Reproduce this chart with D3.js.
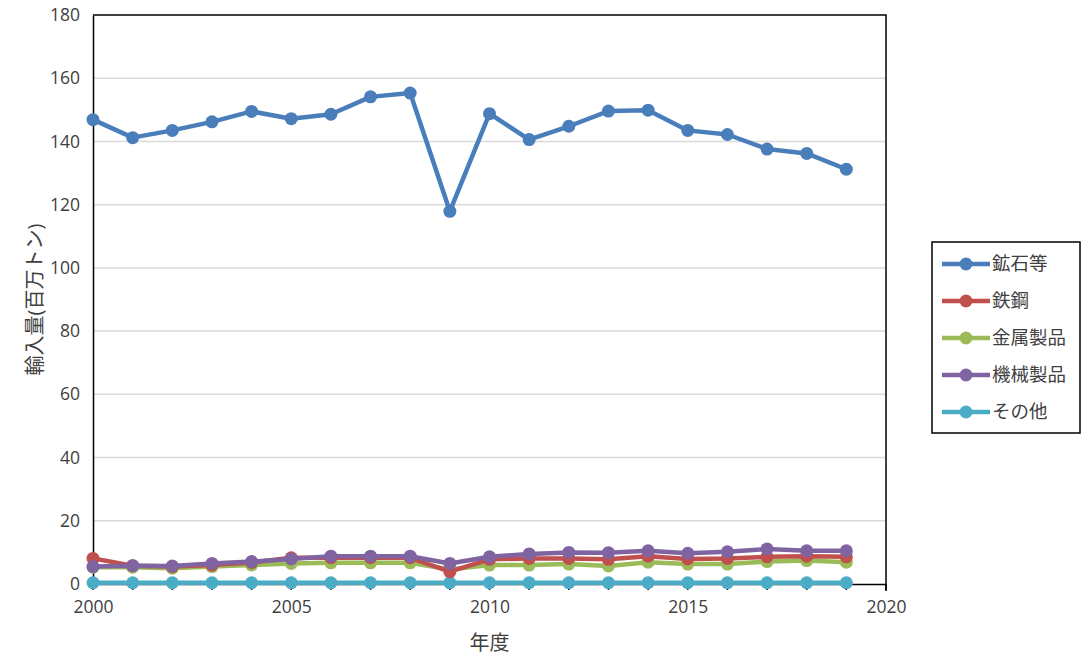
<!DOCTYPE html>
<html><head><meta charset="utf-8">
<script src="https://cdn.jsdelivr.net/npm/d3@7"></script>
<style>
html,body{margin:0;padding:0;background:#fff;}
text{font-family:"Open Sans","Noto Sans CJK JP",sans-serif;}
</style></head>
<body><svg id="c" width="1083" height="660"></svg>
<script>
const years = d3.range(2000, 2020);
const seriesNames = ["鉱石等","鉄鋼","金属製品","機械製品","その他"];
const seriesColors = ["#4A7EBB","#C0504D","#9BBB59","#8064A2","#4BACC6"];
const oreValues   = [146.9,141.2,143.5,146.2,149.5,147.2,148.6,154.1,155.3,117.9,148.8,140.6,144.8,149.6,149.9,143.5,142.2,137.6,136.2,131.2];
const steelValues = [8.1,5.8,5.5,6.0,6.8,8.3,8.3,8.3,8.3,3.9,7.8,8.1,8.1,7.8,8.8,7.9,8.1,8.6,8.8,8.6];
const metalValues = [5.3,5.3,5.0,5.5,6.0,6.5,6.7,6.7,6.7,4.6,6.0,6.0,6.3,5.7,6.9,6.3,6.3,7.1,7.4,6.9];
const machValues  = [5.5,5.8,5.7,6.5,7.1,7.9,8.8,8.8,8.8,6.5,8.6,9.5,10.0,9.9,10.5,9.7,10.2,11.1,10.5,10.5];
const otherValues = [0.4,0.4,0.4,0.4,0.4,0.4,0.4,0.4,0.4,0.4,0.4,0.4,0.4,0.4,0.4,0.4,0.4,0.4,0.4,0.4];
const allValues = [oreValues, steelValues, metalValues, machValues, otherValues];
const yTicks = [0,20,40,60,80,100,120,140,160,180];
const xTicks = [2000,2005,2010,2015,2020];
const xTitle = "年度";
const yTitle = "輸入量(百万トン)";

const svg = d3.select("#c");
const L = 93, R = 886, T = 15, B = 584;
const x = d3.scaleLinear().domain([2000, 2020]).range([L, R]);
const y = d3.scaleLinear().domain([0, 180]).range([B, T]);
const textColor = "#404040";

// gridlines
svg.append("g").selectAll("line").data(yTicks.filter(d => d > 0 && d < 180)).join("line")
  .attr("x1", L).attr("x2", R).attr("y1", d => y(d)).attr("y2", d => y(d))
  .attr("stroke", "#d9d9d9").attr("stroke-width", 1.5);

// frame: top and right
svg.append("path").attr("d", `M${L},${T}H${R}V${B + 7}`).attr("fill", "none").attr("stroke", "#000").attr("stroke-width", 1.5);

// y axis
const yAxis = svg.append("g").attr("transform", `translate(${L},0)`)
  .call(d3.axisLeft(y).tickValues(yTicks).tickSize(0).tickPadding(13));
yAxis.select(".domain").attr("stroke", "#000").attr("stroke-width", 1.5);
yAxis.selectAll("text").attr("font-size", 17.5).attr("fill", textColor);

// x axis
const xAxis = svg.append("g").attr("transform", `translate(0,${B})`)
  .call(d3.axisBottom(x).tickValues(xTicks).tickSize(0).tickPadding(17).tickFormat(d3.format("d")));
xAxis.select(".domain").attr("stroke", "#000").attr("stroke-width", 1.5);
xAxis.selectAll("text").attr("font-size", 17.5).attr("fill", textColor);
// minor ticks every year
svg.append("g").selectAll("line").data(d3.range(2000, 2021)).join("line")
  .attr("x1", d => x(d)).attr("x2", d => x(d)).attr("y1", B).attr("y2", B + 6)
  .attr("stroke", "#000").attr("stroke-width", 1.5);

// titles
svg.append("text").attr("x", (L + R) / 2).attr("y", 650).attr("text-anchor", "middle")
  .attr("font-size", 20).attr("fill", textColor).text(xTitle);
svg.append("text").attr("transform", `translate(42,${(T + B) / 2}) rotate(-90)`)
  .attr("text-anchor", "middle").attr("font-size", 20).attr("fill", textColor).text(yTitle);

// series
const line = d3.line().x((d, i) => x(years[i])).y(d => y(d));
const order = [4, 2, 1, 3, 0];
order.forEach(k => {
  const g = svg.append("g");
  g.append("path").datum(allValues[k]).attr("d", line)
    .attr("fill", "none").attr("stroke", seriesColors[k]).attr("stroke-width", 4.5)
    .attr("stroke-linejoin", "round");
  g.selectAll("circle").data(allValues[k]).join("circle")
    .attr("cx", (d, i) => x(years[i])).attr("cy", d => y(d)).attr("r", 6.5)
    .attr("fill", seriesColors[k]);
});

// legend
const lg = svg.append("g");
lg.append("rect").attr("x", 932).attr("y", 242).attr("width", 148).attr("height", 191)
  .attr("fill", "#fff").attr("stroke", "#000").attr("stroke-width", 1.5);
seriesNames.forEach((n, i) => {
  const cy = 264 + i * 37;
  lg.append("line").attr("x1", 942).attr("x2", 990).attr("y1", cy).attr("y2", cy)
    .attr("stroke", seriesColors[i]).attr("stroke-width", 4.5);
  lg.append("circle").attr("cx", 966).attr("cy", cy).attr("r", 6.5).attr("fill", seriesColors[i]);
  lg.append("text").attr("x", 992).attr("y", cy).attr("dy", "0.35em")
    .attr("font-size", 18.5).attr("fill", textColor).text(n);
});
</script></body></html>
